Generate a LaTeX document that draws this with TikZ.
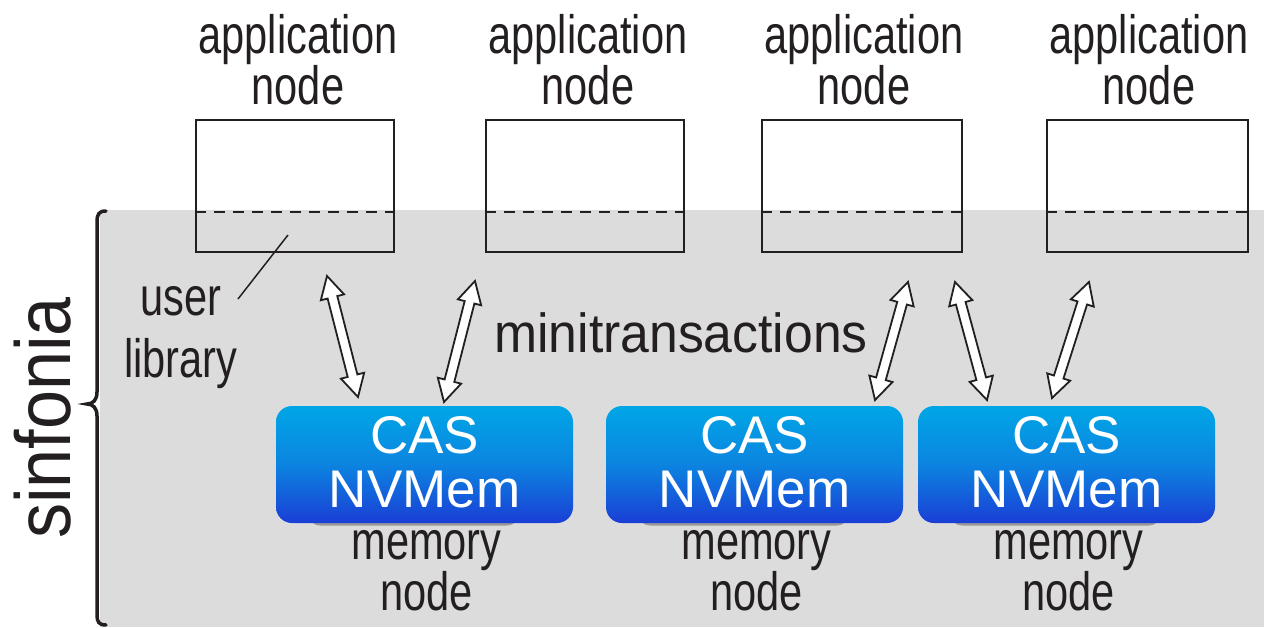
\documentclass[tikz,border=0pt]{standalone}
\usepackage{fontspec}
\setmainfont{Liberation Sans}
\newfontfamily\narrowsans[FakeStretch=0.77]{Liberation Sans}
\newfontfamily\plainsans[FakeStretch=0.94]{Liberation Sans}
\newfontfamily\sidesans[FakeStretch=0.9]{Liberation Sans}
\usetikzlibrary{calc}

\definecolor{ink}{HTML}{231F20}
\definecolor{panel}{HTML}{DCDCDC}
\definecolor{memtop}{RGB}{0,166,230}
\definecolor{memmid}{RGB}{12,132,224}
\definecolor{membot}{RGB}{26,62,214}

% hollow double-headed arrow between two named coordinates
\newcommand\hollowarrow[2]{%
  \filldraw[dblarrow] (#1)
    -- ($(#1)!22pt!(#2)!12pt!90:(#2)$)
    -- ($(#1)!22pt!(#2)!5pt!90:(#2)$)
    -- ($(#2)!22pt!(#1)!5pt!-90:(#1)$)
    -- ($(#2)!22pt!(#1)!12pt!-90:(#1)$)
    -- (#2)
    -- ($(#2)!22pt!(#1)!12pt!90:(#1)$)
    -- ($(#2)!22pt!(#1)!5pt!90:(#1)$)
    -- ($(#1)!22pt!(#2)!5pt!-90:(#2)$)
    -- ($(#1)!22pt!(#2)!12pt!-90:(#2)$)
    -- cycle;}

\tikzset{
  appbox/.style={draw=ink, line width=2pt, minimum width=198pt, minimum height=132pt, inner sep=0pt},
  libsplit/.style={draw=ink, line width=2.2pt, dash pattern=on 11pt off 8pt},
  membox/.style={rounded corners=16pt, minimum width=297pt, minimum height=117pt, inner sep=0pt,
    top color=memtop, bottom color=membot, middle color=memmid},
  memtext/.style={text=white, align=center, inner sep=0pt, font=\fontsize{53}{54}\selectfont},
  memshadow/.style={fill=black!40, rounded corners=14pt},
  narrowlabel/.style={text=ink, align=center, inner sep=0pt,
    font=\narrowsans\fontsize{54}{51}\selectfont},
  dblarrow/.style={draw=ink, fill=white, line width=1.8pt, line join=miter},
  leader/.style={draw=ink, line width=1.5pt},
  bracestroke/.style={draw=ink, line width=3.5pt, line cap=round}
}

\begin{document}
\begin{tikzpicture}[x=1pt, y=-1pt]
  \useasboundingbox (0,0) rectangle (1264,627);

  % shaded region covered by sinfonia
  \fill[panel] (100,210) rectangle (1264,627);

  % curly brace at the left of the region
  \draw[bracestroke] (106,211) .. controls (99,211) and (97,214) .. (97,222)
    -- (97,392) .. controls (97,400) and (93,404) .. (87,404)
    .. controls (93,404) and (97,408) .. (97,416)
    -- (97,615) .. controls (97,622) and (99,625) .. (106,625);
  \node[text=ink, inner sep=0pt, rotate=90, anchor=base,
        font=\sidesans\fontsize{78}{78}\selectfont]
        (sinfonia) at (70,418) {sinfonia};

  % application nodes with their user-library part
  \foreach \n/\cx/\w in {1/295/198, 2/585/198, 3/862/200, 4/1147.5/201}{
    \node[appbox, minimum width=\w pt] (a\n) at (\cx,186) {};
    \draw[libsplit] ($(a\n.south west)+(0,-41)$) -- ($(a\n.south east)+(0,-41)$);
  }
  % (base of a multi-line label is its last line)
  \node[narrowlabel, anchor=base] (la1) at (298,104) {application\\node};
  \node[narrowlabel, anchor=base] (la2) at (588,104) {application\\node};
  \node[narrowlabel, anchor=base] (la3) at (864,104) {application\\node};
  \node[narrowlabel, anchor=base] (la4) at (1149,104) {application\\node};

  % user library label and its leader
  \node[narrowlabel, anchor=base, font=\narrowsans\fontsize{54}{62}\selectfont]
        (ulib) at (181,377) {user\\library};
  \coordinate (leadA) at (238,299);
  \coordinate (leadB) at (288,235);
  \draw[leader] (leadA) -- (leadB);

  % memory nodes
  \foreach \n/\cx in {1/424.5, 2/754.5, 3/1066.5}{
    \fill[memshadow] (\cx-118,440) rectangle (\cx+96,525.5);
    \node[membox] (m\n) at (\cx,464.5) {};
    \node[memtext, anchor=base] (t\n) at (\cx,507) {CAS\\NVMem};
    \node[narrowlabel, anchor=base] (lm\n) at (\cx+2,610) {memory\\node};
  }

  \node[text=ink, inner sep=0pt, anchor=base, font=\plainsans\fontsize{55}{55}\selectfont]
        (mtx) at (681,352) {minitransactions};

  % minitransaction arrows
  \coordinate (u1) at (327,276);  \coordinate (d1) at (358,397);
  \coordinate (u2) at (475,281);  \coordinate (d2) at (444,402);
  \coordinate (u3) at (908,282);  \coordinate (d3) at (875,400);
  \coordinate (u4) at (955,282);  \coordinate (d4) at (987,400);
  \coordinate (u5) at (1089,282); \coordinate (d5) at (1052,398);
  \hollowarrow{u1}{d1}
  \hollowarrow{u2}{d2}
  \hollowarrow{u3}{d3}
  \hollowarrow{u4}{d4}
  \hollowarrow{u5}{d5}
\end{tikzpicture}
\end{document}
